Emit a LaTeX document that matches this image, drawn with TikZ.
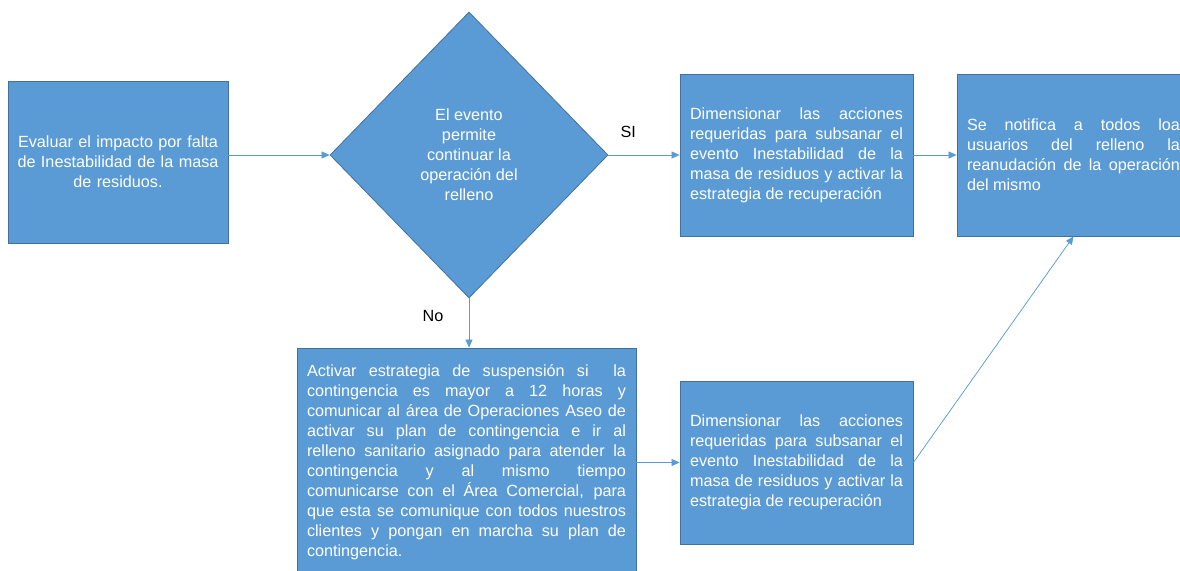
\documentclass[tikz,border=0pt]{standalone}
\usepackage{fontspec}
\setmainfont{Liberation Sans}
\usetikzlibrary{shapes.geometric, arrows.meta, positioning}
\definecolor{BoxFill}{HTML}{5B9BD5}
\definecolor{BoxLine}{HTML}{41719C}
\definecolor{ArrowLine}{HTML}{5B9BD5}

\begin{document}
\begin{tikzpicture}[
    x=1pt, y=-1pt,
    stagebox/.style={
        rectangle, draw=BoxLine, fill=BoxFill, line width=0.8pt,
        text=white, font=\fontsize{16.2}{20}\selectfont,
        inner xsep=10pt, inner ysep=0pt, minimum width=233pt,
        minimum height=162pt, text width=213pt, align=justify
    },
    decision/.style={
        diamond, aspect=1, draw=BoxLine, fill=BoxFill, line width=0.8pt,
        text=white, font=\fontsize{16.2}{20}\selectfont, align=center,
        inner sep=0pt, minimum width=278pt, minimum height=286pt
    },
    branchlbl/.style={font=\fontsize{16.2}{20}\selectfont, text=black},
    arr/.style={-{Triangle[length=8pt, width=7pt]}, line width=0.75pt, ArrowLine}
]
\useasboundingbox (0,0) rectangle (1180,570);

% ===================================================================
% ENTRY
% ===================================================================
\node[stagebox, minimum width=220pt, inner xsep=8pt, text width=204pt,
      align=center] (evaluar) at (118,162)
    {Evaluar el impacto por falta\\
     de Inestabilidad de la masa\\
     de residuos.};

% ===================================================================
% DECISION
% ===================================================================
\node[decision] (evento) at (469,155)
    {El evento\\permite\\continuar la\\operación del\\relleno};

\draw[arr] (evento.west -| evaluar.east) -- (evento.west);

% ===================================================================
% SI branch
% ===================================================================
\node[stagebox] (dimSi) at (796.5,155)
    {Dimensionar las acciones\linebreak
     requeridas para subsanar el\linebreak
     evento Inestabilidad de la\linebreak
     masa de residuos y activar la\linebreak
     estrategia de recuperación};

\node[stagebox] (notifica) at (1073.5,155)
    {Se notifica a todos loa\linebreak
     usuarios del relleno la\linebreak
     reanudación de la operación\linebreak
     del mismo};

\draw[arr] (evento.east) -- node[branchlbl, above=14pt, pos=0.28] {SI}
    (dimSi.west);
\draw[arr] (dimSi.east) -- (notifica.west);

% ===================================================================
% No branch
% ===================================================================
\node[stagebox, minimum width=339pt, minimum height=229pt, text width=319pt]
    (suspension) at (466.5,462.5)
    {Activar estrategia de suspensión si~ la\linebreak
     contingencia es mayor a 12 horas y\linebreak
     comunicar al área de Operaciones Aseo de\linebreak
     activar su plan de contingencia e ir al\linebreak
     relleno sanitario asignado para atender la\linebreak
     contingencia y al mismo tiempo\linebreak
     comunicarse con el Área Comercial, para\linebreak
     que esta se comunique con todos nuestros\linebreak
     clientes y pongan en marcha su plan de\linebreak
     contingencia.};

\node[stagebox, minimum height=163pt] (dimNo) at (796.5,462.5)
    {Dimensionar las acciones\linebreak
     requeridas para subsanar el\linebreak
     evento Inestabilidad de la\linebreak
     masa de residuos y activar la\linebreak
     estrategia de recuperación};

\draw[arr] (evento.south) -- node[branchlbl, left=22pt, pos=0.36] {No}
    (evento.south |- suspension.north);
\draw[arr] (suspension.east) -- (dimNo.west);
\draw[arr] (dimNo.east) -- (notifica.south);

\end{tikzpicture}
\end{document}
